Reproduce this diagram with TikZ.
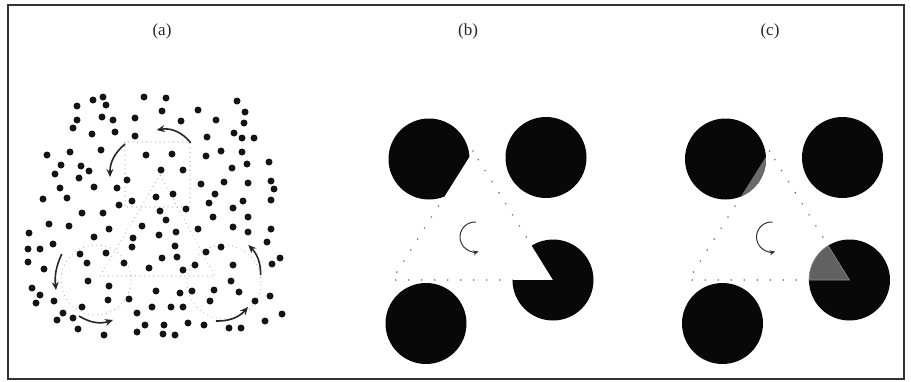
\documentclass[tikz,border=0pt]{standalone}
\usepackage{fontspec}
\setmainfont{Liberation Serif}
\usetikzlibrary{arrows.meta}
\begin{document}
\begin{tikzpicture}[x=1pt,y=1pt,
  dotstyle/.style={fill=black!92},
  motion/.style={line width=1.6pt, draw=black!85, -{Stealth[length=8pt,width=7pt]}},
  faint/.style={draw=black!35, line width=1.1pt, line cap=round, dash pattern=on 0pt off 4.5pt},
  tri/.style={draw=black!55, line width=1.8pt, line cap=round, dash pattern=on 0pt off 13pt},
  disc/.style={fill=black!97},
  spin/.style={draw=black!80, line width=1pt, -{Stealth[length=5.5pt,width=5pt]}},
  lab/.style={font=\fontsize{17}{19}\selectfont, text=black!85}
]
\useasboundingbox (0,0) rectangle (911,-381);
\draw[line width=1.5pt, black!80] (8,-5) rectangle (904,-379);

% labels
\node[lab] (la) at (162,-31) {(a)};
\node[lab] (lb) at (468,-31) {(b)};
\node[lab] (lc) at (770,-31) {(c)};

% ---------------- panel (a) ----------------
\draw[faint] (125,-142) rectangle (190,-207);
\coordinate (aA) at (160,-175);
\coordinate (aL) at (100,-276);
\coordinate (aR) at (215,-276);
\draw[faint] (aA) -- (aL) -- (aR) -- cycle;
\draw[faint] (96,-280) circle[radius=35];
\draw[faint] (224,-282) circle[radius=37];

\foreach \x/\y in {
144/97,93/100,103/97,106/105,77/106,102/117,113/120,135/118,77/120,73/128,92/134,115/132,135/136,
101/150,70/152,47/155,146/155,61/165,81/166,89/171,55/174,79/178,127/180,60/188,94/187,117/188,
43/199,67/198,132/201,119/205,82/213,103/213,156/197,
166/98,237/101,162/111,198/110,245/112,181/121,216/120,244/123,207/137,234/133,242/138,254/138,
221/151,242/152,172/154,206/156,247/164,269/162,161/170,183/170,232/168,224/182,248/183,201/184,
271/181,274/189,215/194,173/194,271/200,243/201,209/203,160/211,186/209,233/208,
49/224,69/226,109/229,142/226,29/233,94/237,133/238,53/244,132/247,28/249,40/249,80/254,106/253,
28/262,87/263,124/263,44/269,149/268,88/281,109/286,32/288,40/295,36/303,54/301,108/300,129/299,
82/307,152/307,63/313,73/318,137/313,57/320,145/325,78/329,137/332,104/335,
213/217,248/217,166/220,198/229,233/227,271/229,176/232,159/235,248/232,267/242,175/246,221/247,
206/252,162/258,177/257,280/258,195/265,233/265,272/264,183/270,231/281,156/291,180/293,192/291,
214/290,239/292,270/296,210/301,255/301,171/307,183/307,282/314,188/323,204/325,265/321,164/325,
229/328,241/328,163/334,175/335}
  \fill[dotstyle] (\x,-\y) circle[radius=3.5];

\coordinate (m1s) at (190.7,-142.7); \coordinate (m1e) at (156.7,-130);
\coordinate (m2s) at (125,-144);     \coordinate (m2e) at (110,-177);
\coordinate (m3s) at (61.7,-254);    \coordinate (m3e) at (56,-290);
\coordinate (m4s) at (79,-316);      \coordinate (m4e) at (113,-320);
\coordinate (m5s) at (216,-321);     \coordinate (m5e) at (248,-307);
\coordinate (m6s) at (260.7,-275);   \coordinate (m6e) at (248.3,-245);
\draw[motion] (m1s) to[bend right=30] (m1e);
\draw[motion] (m2s) to[bend right=25] (m2e);
\draw[motion] (m3s) to[bend right=15] (m3e);
\draw[motion] (m4s) to[bend right=25] (m4e);
\draw[motion] (m5s) to[bend right=25] (m5e);
\draw[motion] (m6s) to[bend right=22] (m6e);

% ---------------- panel (b) ----------------
\coordinate (bA) at (473,-151);
\coordinate (bL) at (392,-280);
\coordinate (bR) at (553,-280);
\draw[tri] (bA) -- (bL) -- (bR) -- cycle;
\fill[white] (429,-159) circle[radius=40.5];
\fill[white] (bR) circle[radius=40.5];
\begin{scope}
  \clip (513.5,-86.5) -- (392,-280) -- (340,-280) -- (340,-86.5) -- cycle;
  \fill[disc] (429,-159) circle[radius=40.5];
\end{scope}
\fill[disc] (546,-157.5) circle[radius=40.5];
\fill[disc] (426,-323.5) circle[radius=40.5];
\fill[disc] (bR) -- ++(180:40.5) arc[start angle=180, end angle=481.8, radius=40.5] -- cycle;
\coordinate (bS) at (475,-237);
\draw[spin] (bS) ++(86:15) arc[start angle=86, end angle=284, radius=15];

% ---------------- panel (c) ----------------
\begin{scope}[xshift=296.5pt]
\coordinate (cA) at (473,-151);
\coordinate (cL) at (392,-280);
\coordinate (cR) at (553,-280);
\draw[tri] (cA) -- (cL) -- (cR) -- cycle;
\fill[disc] (429,-159) circle[radius=40.5];
\begin{scope}
  \clip (513.5,-86.5) -- (392,-280) -- (600,-280) -- (600,-86.5) -- cycle;
  \fill[black!58] (429,-159) circle[radius=40.5];
\end{scope}
\fill[disc] (546,-157.5) circle[radius=40.5];
\fill[disc] (426,-323.5) circle[radius=40.5];
\fill[disc] (cR) circle[radius=40.5];
\fill[black!62, draw=black!45, line width=0.6pt] (cR) -- ++(180:40.5) arc[start angle=180, end angle=121.8, radius=40.5] -- cycle;
\coordinate (cS) at (475,-237);
\draw[spin] (cS) ++(86:15) arc[start angle=86, end angle=284, radius=15];
\end{scope}
\end{tikzpicture}
\end{document}
